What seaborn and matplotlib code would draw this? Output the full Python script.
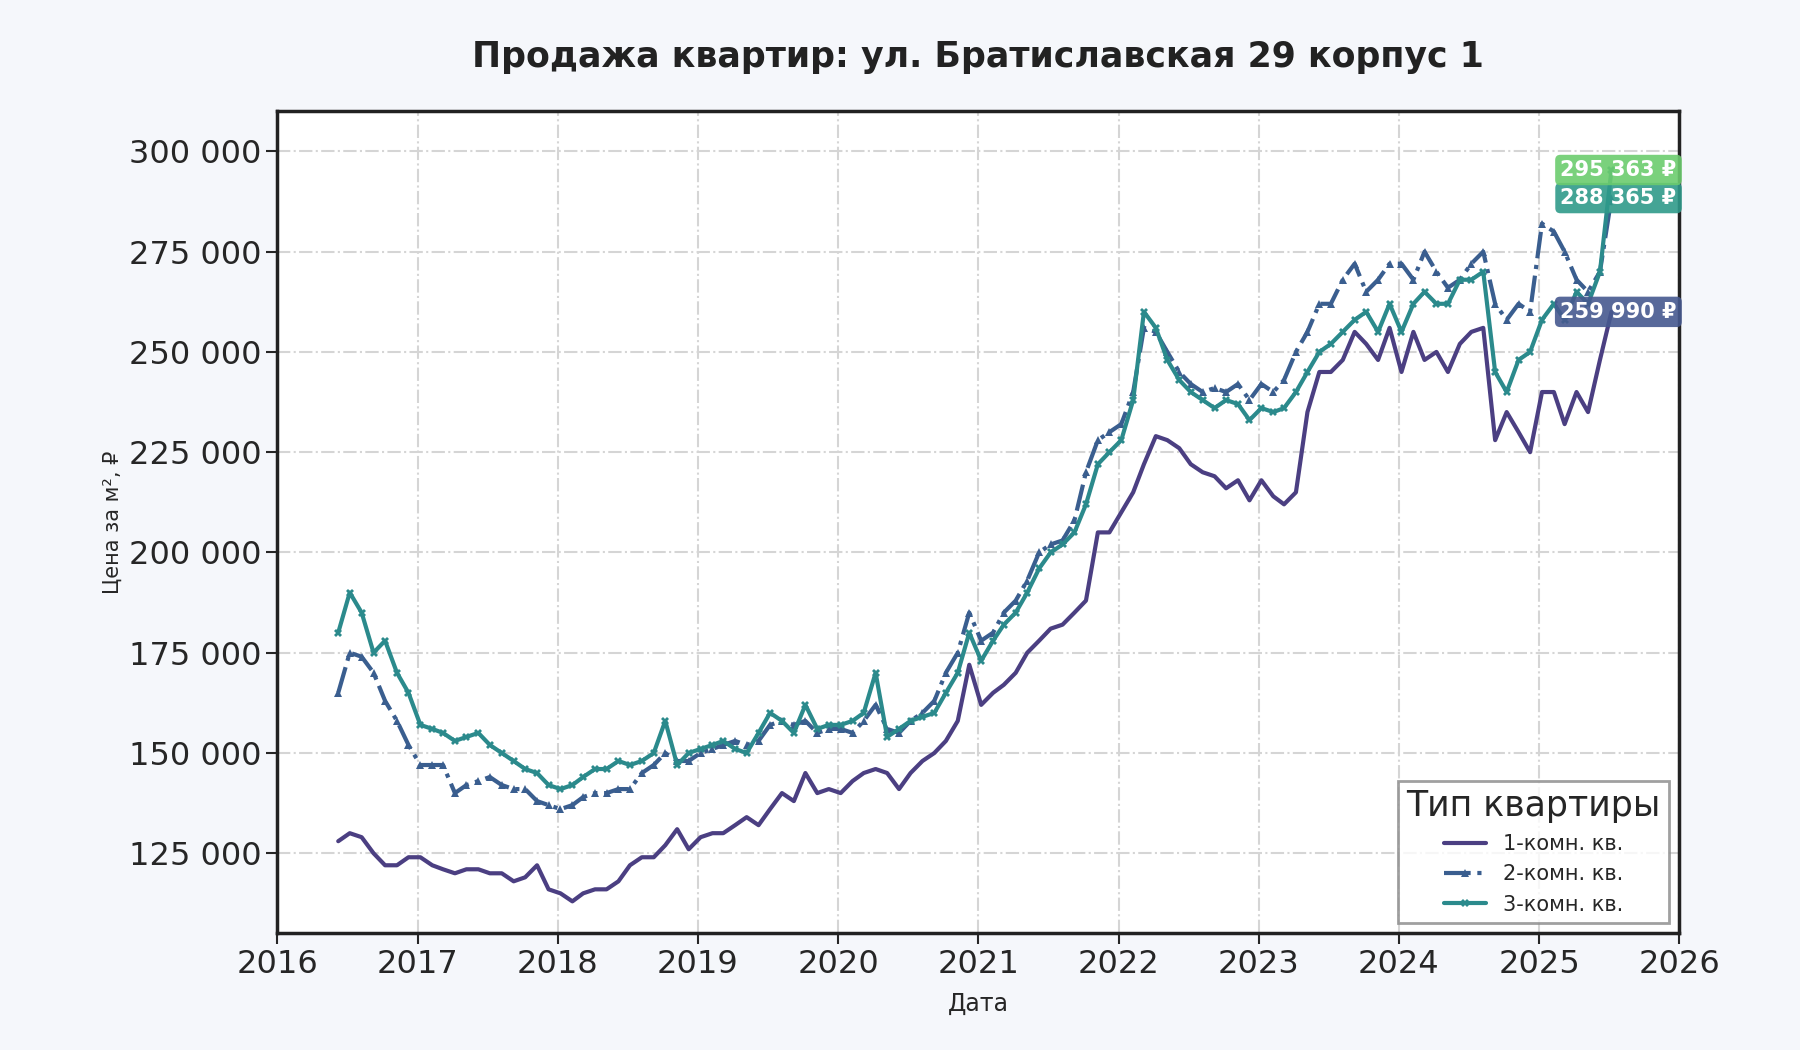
import pandas as pd
import numpy as np
import matplotlib
matplotlib.use("Agg")
import matplotlib.pyplot as plt
import matplotlib.dates as mdates
import matplotlib.ticker as mticker
import seaborn as sns

dates = pd.date_range("2016-06-01", periods=110, freq="MS") + pd.Timedelta(days=7)

room1 = [128, 130, 129, 125, 122, 122, 124,
         124, 122, 121, 120, 121, 121, 120, 120, 118, 119, 122, 116,
         115, 113, 115, 116, 116, 118, 122, 124, 124, 127, 131, 126,
         129, 130, 130, 132, 134, 132, 136, 140, 138, 145, 140, 141,
         140, 143, 145, 146, 145, 141, 145, 148, 150, 153, 158, 172,
         162, 165, 167, 170, 175, 178, 181, 182, 185, 188, 205, 205,
         210, 215, 222, 229, 228, 226, 222, 220, 219, 216, 218, 213,
         218, 214, 212, 215, 235, 245, 245, 248, 255, 252, 248, 256,
         245, 255, 248, 250, 245, 252, 255, 256, 228, 235, 230, 225,
         240, 240, 232, 240, 235, 248, 259.99]
room2 = [165, 175, 174, 170, 163, 158, 152,
         147, 147, 147, 140, 142, 143, 144, 142, 141, 141, 138, 137,
         136, 137, 139, 140, 140, 141, 141, 145, 147, 150, 148, 148,
         150, 151, 152, 153, 152, 153, 157, 158, 157, 158, 155, 156,
         156, 155, 158, 162, 156, 155, 158, 160, 163, 170, 175, 185,
         178, 180, 185, 188, 193, 200, 202, 203, 208, 220, 228, 230,
         232, 240, 256, 255, 250, 245, 242, 240, 241, 240, 242, 238,
         242, 240, 243, 250, 255, 262, 262, 268, 272, 265, 268, 272,
         272, 268, 275, 270, 266, 268, 272, 275, 262, 258, 262, 260,
         282, 280, 275, 268, 265, 270, 288.365]
room3 = [180, 190, 185, 175, 178, 170, 165,
         157, 156, 155, 153, 154, 155, 152, 150, 148, 146, 145, 142,
         141, 142, 144, 146, 146, 148, 147, 148, 150, 158, 147, 150,
         151, 152, 153, 151, 150, 155, 160, 158, 155, 162, 156, 157,
         157, 158, 160, 170, 154, 156, 158, 159, 160, 165, 170, 180,
         173, 178, 182, 185, 190, 196, 200, 202, 205, 212, 222, 225,
         228, 238, 260, 256, 248, 243, 240, 238, 236, 238, 237, 233,
         236, 235, 236, 240, 245, 250, 252, 255, 258, 260, 255, 262,
         255, 262, 265, 262, 262, 268, 268, 270, 245, 240, 248, 250,
         258, 262, 258, 265, 262, 270, 295.363]

names = ["1-комн. кв.", "2-комн. кв.", "3-комн. кв."]
colors = ["#4b3f82", "#3a5e8f", "#2b8a8c"]
styles = ["-", "-.", "-"]
markers = [None, "^", "X"]
label_colors = ["#46598f", "#2f9a8a", "#6ccc6e"]

df = pd.DataFrame({"date": np.tile(dates, 3),
                   "price": np.concatenate([room1, room2, room3]) * 1000,
                   "type": np.repeat(names, len(dates))})

sns.set_style("ticks")
fig = plt.figure(figsize=(18, 10.5), dpi=100, facecolor="#f5f7fb")
ax = fig.add_axes([0.154, 0.111, 0.779, 0.783])
ax.set_facecolor("white")
for i, n in enumerate(names):
    sub = df[df["type"] == n]
    sns.lineplot(data=sub, x="date", y="price", ax=ax, color=colors[i], linestyle=styles[i],
                 marker=markers[i], markersize=6, markeredgewidth=0, linewidth=3, label=n)

ax.set_xlim(pd.Timestamp("2016-01-01"), pd.Timestamp("2026-01-01"))
ax.set_ylim(105000, 310000)
ax.xaxis.set_major_locator(mdates.YearLocator())
ax.xaxis.set_major_formatter(mdates.DateFormatter("%Y"))
ax.yaxis.set_major_locator(mticker.MultipleLocator(25000))
ax.yaxis.set_major_formatter(mticker.FuncFormatter(lambda v, p: f"{int(v):,}".replace(",", " ")))
ax.grid(True, linestyle="-.", color="#d5d5d5", linewidth=1.5)
ax.tick_params(labelsize=23, length=8, width=1.5)
for s in ax.spines.values():
    s.set_linewidth(2.5)
    s.set_color("#222222")
ax.set_xlabel("Дата", fontsize=17, labelpad=8)
ax.set_ylabel("Цена за м², ₽", fontsize=15)
ax.set_title("Продажа квартир: ул. Братиславская 29 корпус 1", fontsize=25,
             fontweight="bold", pad=32, color="#222222")

ends = [room1[-1], room2[-1], room3[-1]]
for i, v in enumerate(ends):
    ax.annotate(f"{int(round(v * 1000)):,} ₽".replace(",", " "), xy=(1.0, v * 1000),
                xycoords=("axes fraction", "data"), xytext=(-2, 0), textcoords="offset points",
                ha="right", va="center", fontsize=15, fontweight="bold", color="white",
                bbox=dict(boxstyle="round,pad=0.25", fc=label_colors[i], ec="none", alpha=0.9))

leg = ax.legend(title="Тип квартиры", loc="lower right", fontsize=15, title_fontsize=25,
                frameon=True, fancybox=False, edgecolor="#888888")
leg.get_frame().set_linewidth(2)
fig.savefig("out.png", dpi=100, facecolor=fig.get_facecolor())
